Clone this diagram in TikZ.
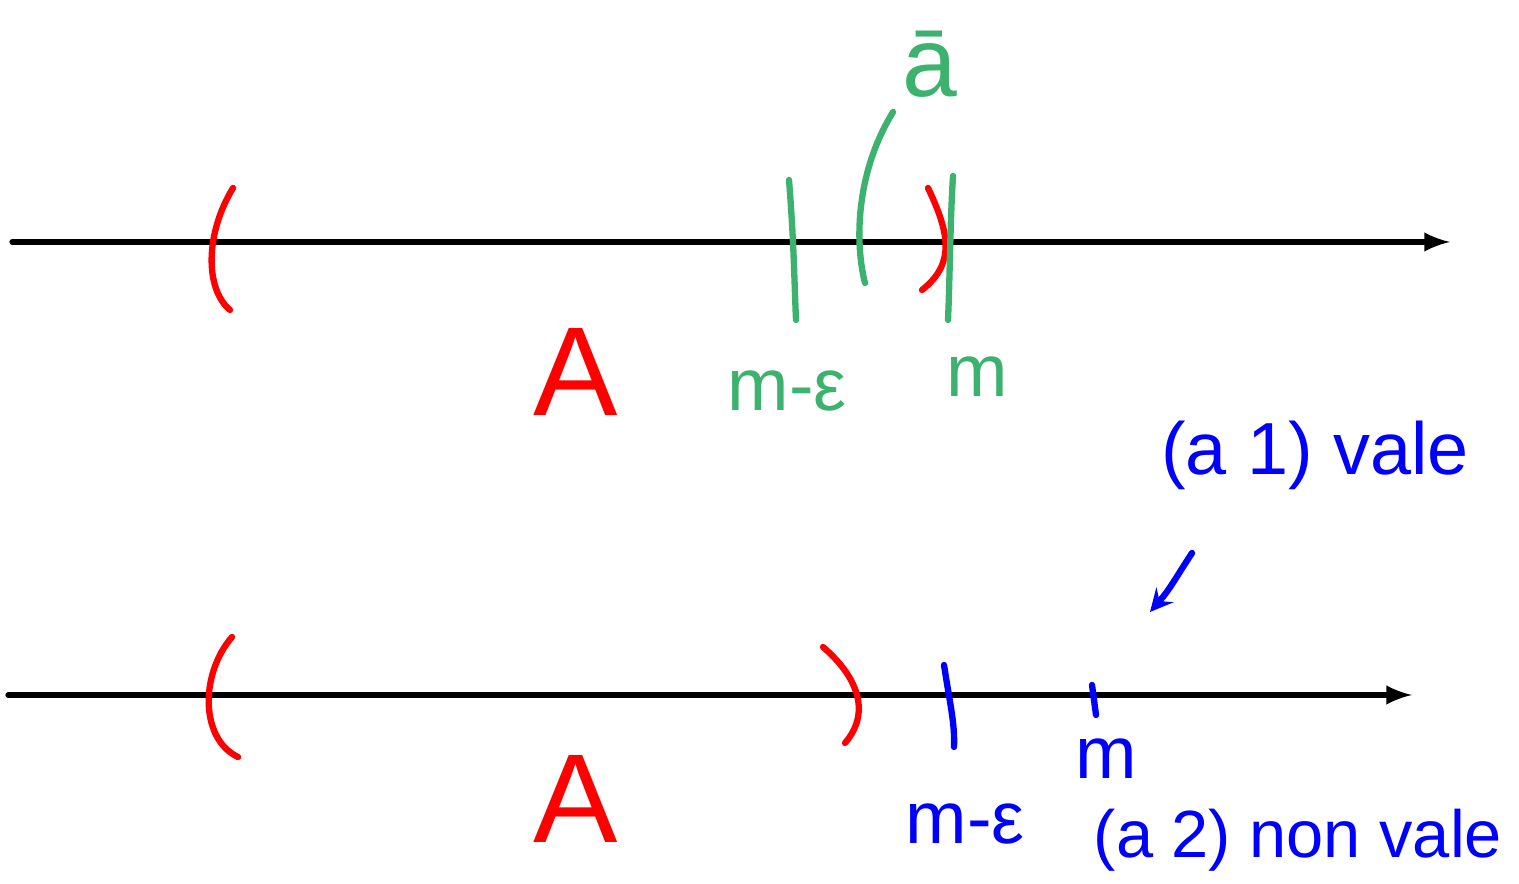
\documentclass[tikz,border=0pt]{standalone}
\usepackage{fontspec}
\setmainfont{Liberation Sans}
\definecolor{penred}{RGB}{255,0,0}
\definecolor{pengreen}{RGB}{60,178,110}
\definecolor{penblue}{RGB}{0,0,255}
\begin{document}
\begin{tikzpicture}
  [line cap=round,line join=round,
   axis/.style={black,line width=1.5pt,-latex},
   redpen/.style={penred,line width=1.8pt},
   greenpen/.style={pengreen,line width=1.8pt},
   bluepen/.style={penblue,line width=1.8pt},
   lab/.style={inner sep=0pt,font=\fontsize{21}{23}\selectfont}]
  \useasboundingbox (0,0) rectangle (15.19,8.84);

  % top line
  \coordinate (t0) at (0.12,6.42);
  \coordinate (t1) at (14.50,6.42);
  \draw[axis] (t0) -- (t1);
  \draw[redpen] (2.33,6.96) .. controls (2.05,6.50) and (2.05,5.95) .. (2.30,5.74);
  \draw[greenpen] (7.89,7.04) .. controls (7.94,6.40) and (7.94,6.10) .. (7.96,5.64);
  \draw[greenpen] (8.93,7.72) .. controls (8.55,7.10) and (8.55,6.40) .. (8.65,6.01);
  \draw[redpen] (9.28,6.96) .. controls (9.50,6.50) and (9.55,6.20) .. (9.22,5.94);
  \draw[greenpen] (9.53,7.08) .. controls (9.50,6.60) and (9.50,6.10) .. (9.48,5.64);
  \node[lab,penred,font=\fontsize{36}{38}\selectfont] (a1) at (5.76,5.12) {A};
  \node[lab,pengreen] (me1) at (7.87,4.93) {m-ε};
  \node[lab,pengreen] (m1) at (9.77,5.07) {m};
  \node[lab,pengreen,font=\fontsize{28}{30}\selectfont] (abar) at (9.30,8.20) {ā};

  % bottom line
  \coordinate (b0) at (0.08,1.89);
  \coordinate (b1) at (14.12,1.89);
  \draw[axis] (b0) -- (b1);
  \draw[redpen] (2.32,2.47) .. controls (2.00,2.10) and (2.00,1.45) .. (2.38,1.27);
  \draw[redpen] (8.23,2.37) .. controls (8.60,2.05) and (8.70,1.70) .. (8.45,1.41);
  \draw[bluepen] (9.44,2.19) .. controls (9.50,1.80) and (9.55,1.60) .. (9.54,1.37);
  \draw[bluepen] (10.92,1.99) -- (10.96,1.69);
  \node[lab,penblue] (me2) at (9.65,0.60) {m-ε};
  \node[lab,penblue] (m2) at (11.06,1.25) {m};
  \node[lab,penred,font=\fontsize{36}{38}\selectfont] (a2) at (5.76,0.85) {A};

  % notes
  \node[lab,penblue] (vale) at (13.15,4.29) {(a 1) vale};
  \node[lab,penblue,font=\fontsize{19}{21}\selectfont] (nonvale) at (12.98,0.44) {(a 2) non vale};
  \coordinate (hint) at (11.50,2.72);
  \draw[bluepen,-stealth] (11.92,3.31) .. controls (11.75,3.05) and (11.70,2.95) .. (hint);
\end{tikzpicture}
\end{document}
